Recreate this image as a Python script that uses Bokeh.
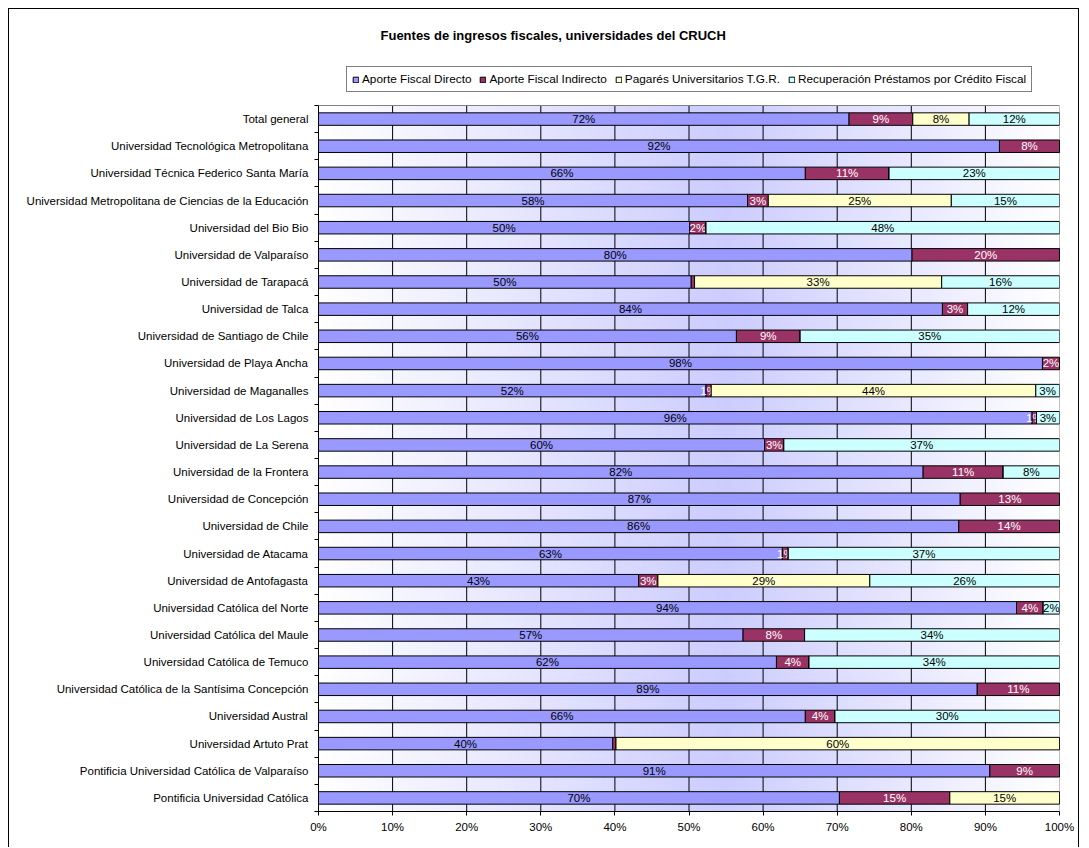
import numpy as np
from bokeh.plotting import figure
from bokeh.models import (ColumnDataSource, FixedTicker, Legend, LegendItem, Label)
from bokeh.core.properties import value
from bokeh.embed import file_html
from bokeh.resources import INLINE

title = "Fuentes de ingresos fiscales, universidades del CRUCH"

universities = [
    "Total general",
    "Universidad Tecnológica Metropolitana",
    "Universidad Técnica Federico Santa María",
    "Universidad Metropolitana de Ciencias de la Educación",
    "Universidad del Bio Bio",
    "Universidad de Valparaíso",
    "Universidad de Tarapacá",
    "Universidad de Talca",
    "Universidad de Santiago de Chile",
    "Universidad de Playa Ancha",
    "Universidad de Maganalles",
    "Universidad de Los Lagos",
    "Universidad de La Serena",
    "Universidad de la Frontera",
    "Universidad de Concepción",
    "Universidad de Chile",
    "Universidad de Atacama",
    "Universidad de Antofagasta",
    "Universidad Católica del Norte",
    "Universidad Católica del Maule",
    "Universidad Católica de Temuco",
    "Universidad Católica de la Santísima Concepción",
    "Universidad Austral",
    "Universidad Artuto Prat",
    "Pontificia Universidad Católica de Valparaíso",
    "Pontificia Universidad Católica",
]

series_names = [
    "Aporte Fiscal Directo",
    "Aporte Fiscal Indirecto",
    "Pagarés Universitarios T.G.R.",
    "Recuperación Préstamos por Crédito Fiscal",
]

directo = [71.6, 91.9, 65.7, 57.9, 50.1, 80.1, 50.3, 84.2, 56.4, 97.7, 52.3, 96.3, 60.2,
           81.6, 86.6, 86.4, 62.6, 43.2, 94.2, 57.3, 61.8, 88.9, 65.7, 39.7, 90.6, 70.3]
indirecto = [8.6, 8.1, 11.3, 2.8, 2.2, 19.9, 0.45, 3.4, 8.6, 2.3, 0.7, 0.6, 2.6,
             10.8, 13.4, 13.6, 0.8, 2.6, 3.6, 8.3, 4.4, 11.1, 4.0, 0.45, 9.4, 14.9]
pagares = [7.6, 0, 0, 24.7, 0, 0, 33.35, 0, 0, 0, 43.8, 0, 0,
           0, 0, 0, 0, 28.6, 0, 0, 0, 0, 0, 59.85, 0, 14.8]
recuperacion = [12.2, 0, 23.0, 14.6, 47.7, 0, 15.9, 12.4, 35.0, 0, 3.2, 3.1, 37.2,
                7.6, 0, 0, 36.6, 25.6, 2.2, 34.4, 33.8, 0, 30.3, 0, 0, 0]

x_ticks = [0, 10, 20, 30, 40, 50, 60, 70, 80, 90, 100]
x_tick_labels = ["0%", "10%", "20%", "30%", "40%", "50%", "60%", "70%", "80%", "90%", "100%"]

colors = ["#9999ff", "#993366", "#ffffcc", "#ccffff"]
label_colors = ["#000000", "#ffffff", "#000000", "#000000"]
FONT = "Liberation Sans"
FS = "11.5px"

n = len(universities)
ys = [n - 1 - i + 0.5 for i in range(n)]

# layout (canvas pixels): frame spans the whole height above the x axis,
# the bar area occupies its lower 706 px, title and legend sit above it.
W, H = 1071, 839
FRAME_H = 802
BAR_H = 706
y_top = n * FRAME_H / BAR_H

p = figure(width=W, height=H, output_backend="svg", toolbar_location=None,
           title=None, x_range=(0, 100), y_range=(0, y_top),
           min_border_left=309, min_border_right=21, min_border_top=0,
           min_border_bottom=H - FRAME_H)
p.margin = (8, 0, 0, 8)
p.styles = {"border-left": "1px solid #000", "border-top": "1px solid #000",
            "border-right": "1px solid #000"}
p.outline_line_color = None
p.background_fill_color = "white"
p.border_fill_color = "white"

# gradient background of the plot area (white -> lavender -> white)
nb = 741
img = np.zeros((1, nb), dtype=np.uint32)
view = img.view(dtype=np.uint8).reshape((1, nb, 4))
for i in range(nb):
    t = (i + 0.5) / nb
    f = t / 0.55 if t <= 0.55 else (1 - t) / 0.45
    c = int(round(255 + (204 - 255) * f))
    view[0, i] = [c, c, 255, 255]
p.image_rgba(image=[img], x=0, y=0, dw=100, dh=n, level="image")

# vertical gridlines limited to the bar area
grid_x = x_ticks[1:-1]
p.segment(x0=grid_x, y0=[0] * len(grid_x), x1=grid_x, y1=[n] * len(grid_x),
          line_color="#000000", line_width=1, level="underlay")

# plot-area border (grey)
p.quad(left=0, right=100, bottom=0, top=n, fill_color=None,
       line_color="#808080", line_width=1, level="underlay")

# stacked bars
series = [directo, indirecto, pagares, recuperacion]
cum = np.zeros(n)
legend_items = []
for k, vals in enumerate(series):
    v = np.array(vals, dtype=float)
    left = cum.copy()
    right = cum + v
    cum = right
    src = ColumnDataSource(dict(y=ys, left=left, right=right))
    r = p.hbar(y="y", left="left", right="right", height=0.46, source=src,
               fill_color=colors[k], line_color="#000000", line_width=1)
    legend_items.append(LegendItem(label=series_names[k], renderers=[r]))
    idx = [i for i in range(n) if int(v[i] + 0.5) > 0]
    lsrc = ColumnDataSource(dict(
        x=[(left[i] + right[i]) / 2 for i in idx],
        y=[ys[i] for i in idx],
        t=["%d%%" % int(v[i] + 0.5) for i in idx]))
    p.text(x="x", y="y", text="t", source=lsrc, text_align="center",
           text_baseline="middle", text_font=value(FONT), text_font_size=FS,
           text_color=label_colors[k])

# axes
p.xaxis.ticker = FixedTicker(ticks=x_ticks)
p.xaxis.major_label_overrides = {t: l for t, l in zip(x_ticks, x_tick_labels)}
p.xaxis.major_label_text_font = FONT
p.xaxis.major_label_text_font_size = FS
p.xaxis.major_label_text_color = "#000000"
p.xaxis.major_tick_out = 4
p.xaxis.major_tick_in = 0
p.xaxis.minor_tick_out = 0
p.xaxis.major_label_standoff = 5
p.xaxis.axis_line_color = "#000000"

p.yaxis.bounds = (0, n)
p.yaxis.ticker = FixedTicker(ticks=ys, minor_ticks=list(range(n + 1)))
p.yaxis.major_label_overrides = {y: u for y, u in zip(ys, universities)}
p.yaxis.major_label_text_font = FONT
p.yaxis.major_label_text_font_size = FS
p.yaxis.major_label_text_color = "#000000"
p.yaxis.major_tick_out = 0
p.yaxis.major_tick_in = 0
p.yaxis.minor_tick_out = 4
p.yaxis.minor_tick_in = 0
p.yaxis.minor_tick_line_color = "#000000"
p.yaxis.major_label_standoff = 6
p.yaxis.axis_line_color = "#000000"

p.xgrid.grid_line_color = None
p.ygrid.grid_line_color = None

legend = Legend(items=legend_items, orientation="horizontal",
                location=(28, FRAME_H - 83),
                label_text_font=FONT, label_text_font_size="11.8px",
                label_text_color="#000000", glyph_width=7, glyph_height=7,
                label_height=13, label_standoff=3, spacing=8, padding=5, margin=0,
                border_line_color="#000000", border_line_width=1,
                background_fill_color="white", background_fill_alpha=1)
p.add_layout(legend)

p.add_layout(Label(x=62, y=FRAME_H - 26, x_units="screen", y_units="screen",
                   text=title, text_align="left", text_baseline="middle",
                   text_font=FONT, text_font_style="bold", text_font_size="13px",
                   text_color="#000000"))

open("out.html", "w").write(file_html(p, INLINE))
